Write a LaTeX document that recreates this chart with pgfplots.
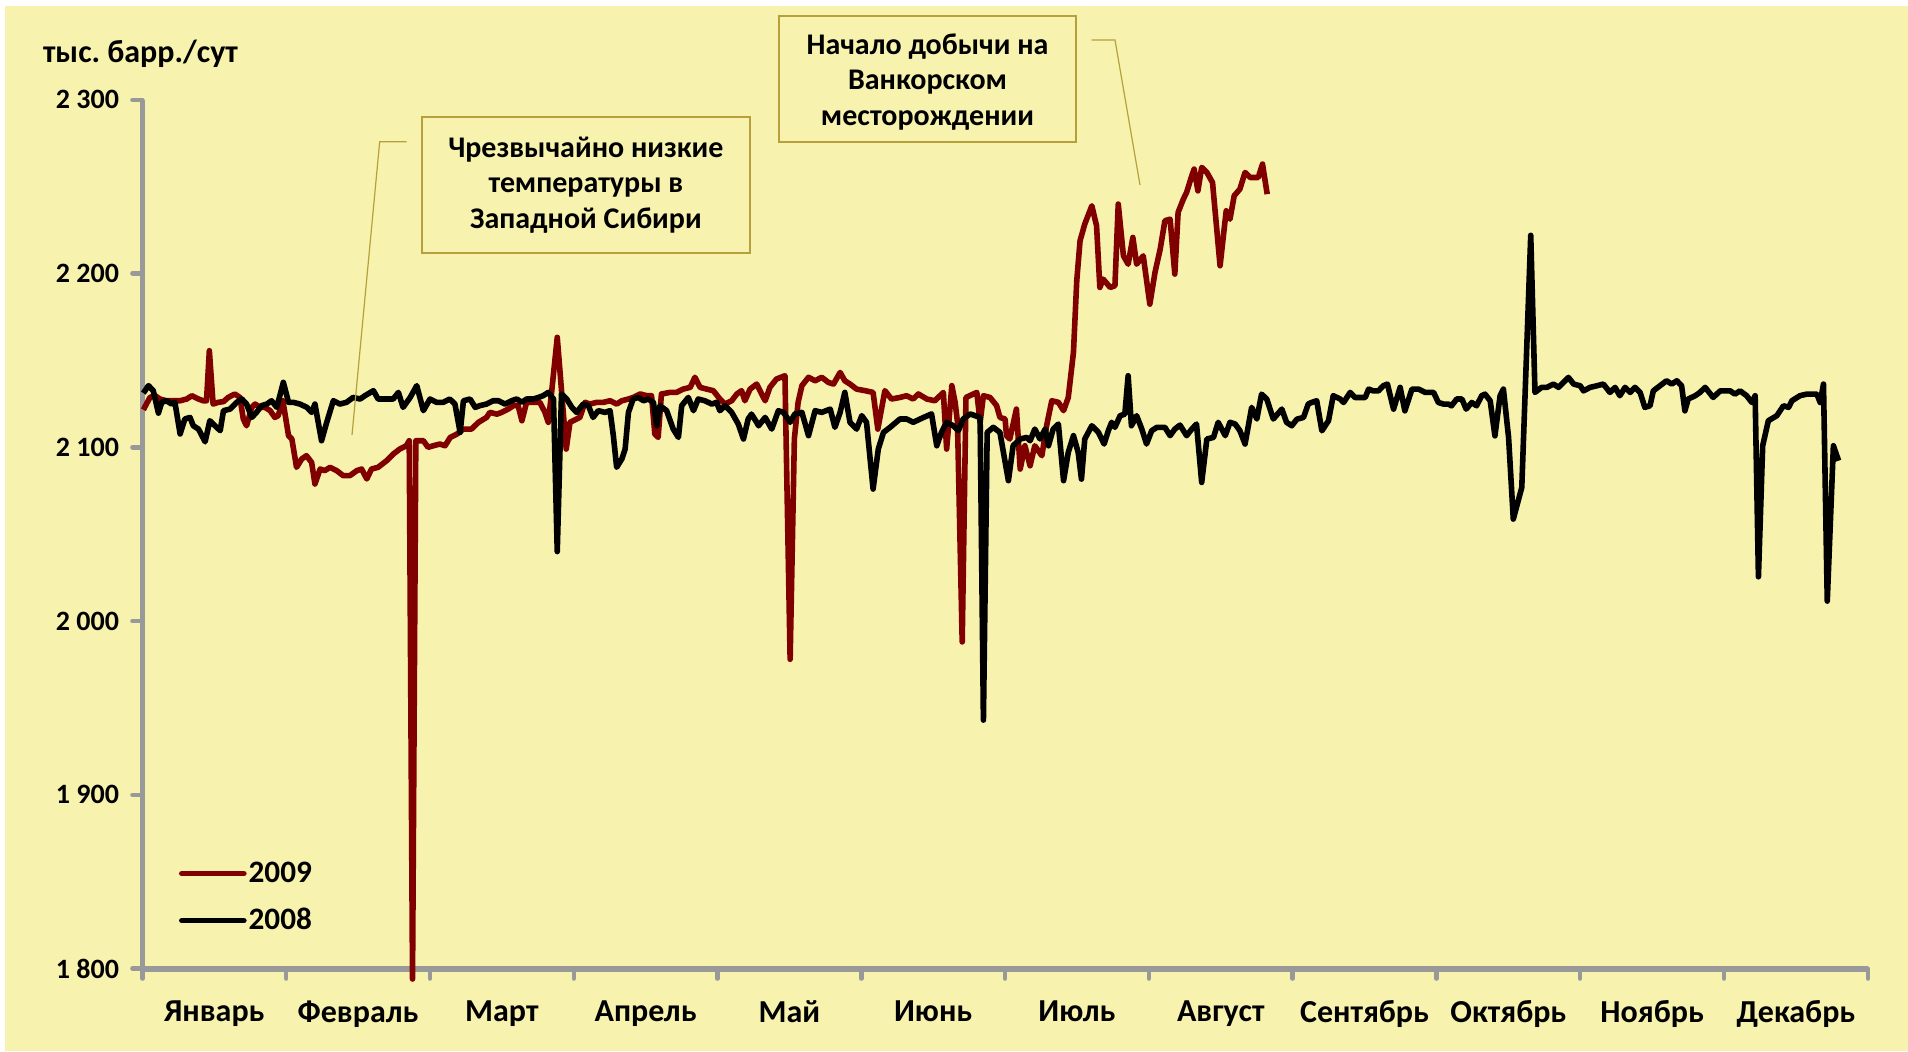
\documentclass[border=0pt]{standalone}
\usepackage{fontspec}
\setmainfont{Carlito}
\usepackage{pgfplots}
\pgfplotsset{compat=1.18}

\definecolor{bgyellow}{RGB}{247,242,173}
\definecolor{axisgray}{RGB}{153,153,153}
\definecolor{series09}{RGB}{128,0,0}
\definecolor{calloutline}{RGB}{181,160,60}

% daily output, thousand barrels per day; x = day of year
\pgfplotstableread{
d v
0.2 2121.6
1.6 2128.7
2.7 2129.7
3.7 2127.8
5.1 2126.8
6.6 2126.8
8.0 2126.8
9.4 2127.8
10.5 2129.7
11.9 2127.8
12.9 2126.8
13.6 2126.8
14.2 2155.6
15.0 2124.9
16.1 2125.9
17.2 2126.3
18.2 2128.7
19.6 2130.7
20.7 2128.7
21.4 2116.3
22.1 2112.4
23.2 2123.0
23.9 2124.9
25.0 2123.0
26.0 2123.0
27.1 2121.1
28.1 2117.2
28.8 2118.2
29.8 2126.8
31.0 2106.7
31.7 2104.8
32.7 2088.5
33.8 2093.3
34.8 2095.2
35.9 2091.3
36.6 2078.9
37.7 2087.5
38.7 2086.6
39.8 2088.5
41.2 2086.6
42.6 2083.7
44.0 2083.7
45.5 2086.6
46.5 2087.5
47.6 2081.8
48.6 2087.5
50.0 2088.5
51.8 2092.3
53.2 2096.1
54.6 2099.0
56.0 2100.9
56.6 2103.8
57.3 1794
58.0 2103.8
59.6 2103.8
60.6 2100.0
61.7 2100.9
63.1 2101.9
64.2 2100.9
65.3 2105.7
66.7 2107.6
68.1 2110.5
69.8 2110.5
71.3 2114.4
73.0 2117.2
73.7 2120.1
75.2 2119.1
76.2 2120.1
77.6 2122.0
78.7 2124.0
79.7 2124.0
80.5 2115.3
81.5 2125.9
82.9 2125.9
84.3 2125.9
85.4 2120.1
86.1 2114.4
86.8 2131.6
88.0 2163.3
89.9 2099.0
90.7 2114.4
92.1 2116.3
92.8 2117.2
93.9 2125.9
94.9 2124.9
96.4 2125.9
97.8 2125.9
99.2 2126.8
100.6 2124.9
101.7 2126.8
103.1 2127.8
104.1 2128.7
105.6 2130.7
107.0 2129.7
108.0 2129.7
108.7 2107.6
109.4 2105.7
110.1 2130.7
111.9 2131.6
113.3 2131.6
114.7 2133.5
116.2 2134.5
117.2 2140.3
118.3 2134.5
119.7 2133.5
121.1 2132.6
122.5 2127.8
123.6 2124.9
125.0 2126.8
126.1 2130.7
127.1 2132.6
127.8 2126.8
128.9 2133.5
130.3 2136.4
132.1 2126.8
133.1 2134.5
134.5 2139.3
136.3 2141.2
137.4 1978
138.3 2105
139.1 2126
139.9 2135.5
141.3 2140.3
142.7 2138.3
144.1 2140.3
145.5 2137.4
146.6 2136.4
148.0 2143.1
149.0 2138.3
150.1 2136.4
151.5 2133.5
153.3 2132.6
155.0 2131.6
156.0 2110.5
157.5 2132.6
158.9 2127.8
160.7 2128.7
162.1 2129.7
163.5 2127.8
164.6 2130.7
166.4 2127.8
168.1 2126.8
169.9 2131.6
170.6 2099.0
171.7 2135.5
172.4 2125.9
172.9 2114.4
173.9 1988
174.7 2128.7
177.0 2131.6
177.7 2114.4
178.4 2129.7
179.8 2128.7
181.2 2124.0
181.9 2117.2
183.0 2116.3
183.3 2106.7
184.0 2104.8
185.4 2122.0
186.2 2087.5
187.2 2100.9
188.3 2089.4
189.3 2100.9
190.8 2095.2
191.8 2112.4
192.9 2126.8
194.3 2125.9
195.4 2121.1
196.4 2128.7
197.5 2154.6
198.2 2195.9
198.9 2218.9
199.9 2228.5
201.4 2239.0
202.4 2227.5
203.1 2192.0
203.8 2196.8
205.3 2192.0
206.3 2193.0
207.0 2240.0
208.1 2210.2
209.1 2205.4
210.1 2220.8
210.9 2205.4
212.3 2210.2
213.7 2182.4
214.8 2200.7
215.9 2214.1
216.9 2230.4
218.0 2231.3
219.0 2199.7
219.7 2235.2
220.8 2242.8
221.5 2246.7
222.6 2256.3
223.1 2260.1
223.9 2247.6
224.7 2261.1
225.8 2258.2
227.0 2252.4
228.6 2204.5
229.9 2236.1
230.7 2231.3
231.6 2244.8
232.8 2248.6
233.9 2258.2
235.0 2255.3
236.7 2255.3
237.6 2263.0
238.6 2245.7
}\yearnine

\pgfplotstableread{
d v
0.2 2131.2
1.3 2135.5
2.3 2132.6
3.4 2119.7
4.1 2125.9
5.1 2126.8
6.2 2124.9
6.9 2125.9
8.0 2107.7
9.0 2116.3
10.1 2117.2
10.8 2112.4
11.9 2110.5
13.3 2103.2
14.3 2115.3
15.4 2112.4
16.5 2109.6
17.2 2121.1
18.6 2122.0
20.0 2125.9
21.1 2127.8
22.1 2124.9
23.2 2117.2
24.2 2120.1
25.3 2124.0
26.4 2124.9
27.4 2126.8
28.5 2123.0
29.9 2137.4
31.0 2125.9
32.0 2125.9
33.4 2124.9
34.9 2123.0
35.9 2120.1
36.6 2124.9
38.0 2103.8
39.1 2114.4
40.5 2126.8
41.9 2124.9
43.3 2125.9
44.7 2128.7
46.2 2127.8
47.2 2129.7
49.0 2132.6
50.0 2127.8
51.8 2127.8
53.2 2127.8
54.3 2131.6
55.3 2123.0
56.8 2128.7
58.2 2135.5
59.6 2121.1
61.0 2127.8
62.4 2125.9
63.8 2125.9
65.2 2127.8
66.3 2124.9
67.4 2108.6
68.1 2126.8
69.5 2127.8
70.6 2123.0
71.6 2124.0
73.0 2124.9
74.4 2126.8
75.5 2126.8
76.9 2124.9
78.3 2126.8
79.4 2127.8
80.5 2125.9
81.5 2127.8
82.9 2127.8
84.0 2128.7
85.0 2129.7
86.1 2131.6
87.2 2127.8
88.0 2040
88.9 2130.7
90.0 2127.8
91.1 2123.0
92.1 2120.1
93.5 2124.9
94.6 2124.0
95.6 2117.2
96.7 2121.1
98.1 2120.1
99.2 2121.1
99.9 2106.7
100.6 2088.5
101.7 2093.3
102.4 2099.0
103.1 2120.1
104.1 2127.8
105.2 2128.7
106.3 2126.8
107.3 2127.8
108.4 2125.9
109.1 2112.4
109.8 2124.0
111.2 2121.1
112.6 2110.5
113.7 2105.7
114.4 2124.0
115.8 2128.7
116.9 2121.1
117.9 2127.8
119.3 2126.8
120.8 2124.9
121.8 2125.9
122.5 2121.1
123.6 2124.0
125.0 2120.1
126.4 2113.4
127.5 2104.8
128.5 2116.3
129.2 2119.1
130.3 2114.4
130.7 2112.4
132.1 2117.2
133.5 2110.5
134.9 2121.1
136.0 2120.1
137.4 2114.4
138.4 2119.2
139.9 2120.1
141.3 2106.7
142.7 2121.1
144.1 2120.1
145.9 2122.0
146.9 2111.5
148.0 2120.1
149.0 2131.6
150.1 2114.4
151.5 2110.5
152.6 2118.2
153.6 2114.4
155.0 2076.0
156.1 2099.0
157.2 2108.6
158.6 2111.5
160.7 2116.3
162.1 2116.3
163.5 2114.4
165.7 2117.2
167.4 2119.2
168.5 2100.9
169.5 2108.6
170.6 2114.4
172.0 2112.4
173.1 2109.6
174.1 2116.3
175.6 2119.2
177.7 2117.2
178.4 1943
179.2 2108.6
180.5 2111.5
181.9 2108.6
183.7 2080.8
184.7 2100.9
186.2 2104.8
187.6 2105.7
188.3 2103.8
189.3 2110.5
190.4 2104.8
191.5 2110.5
192.2 2100.9
193.2 2110.5
194.3 2113.4
195.4 2080.8
196.4 2097.1
197.5 2106.7
198.5 2097.1
199.2 2081.7
199.9 2104.8
201.4 2112.4
202.8 2108.6
204.0 2101.9
204.9 2109.6
205.6 2114.4
206.3 2111.5
207.4 2118.2
208.4 2119.1
209.1 2141.2
209.8 2112.4
210.9 2118.2
212.0 2110.5
213.0 2101.9
214.1 2109.6
215.2 2111.5
216.9 2111.5
218.0 2106.7
219.0 2110.5
220.1 2112.8
221.5 2106.7
222.6 2110.5
223.6 2113.4
224.7 2079.8
225.8 2104.8
227.2 2105.7
228.2 2114.4
229.7 2106.7
230.7 2114.4
231.8 2113.4
232.8 2109.6
233.9 2101.9
235.3 2123.0
236.4 2116.3
237.4 2130.6
238.5 2127.8
239.9 2116.3
241.7 2122.0
242.7 2114.4
243.8 2112.4
244.9 2116.2
246.3 2117.2
247.3 2124.9
248.0 2125.8
249.1 2126.8
250.2 2109.5
251.6 2115.3
252.6 2129.7
254.1 2127.8
254.8 2125.8
256.2 2131.6
257.2 2128.7
259.4 2128.7
260.1 2133.5
261.1 2132.5
262.2 2132.5
263.2 2135.4
264.1 2136.4
265.4 2122.0
266.8 2134.5
267.8 2121.0
269.3 2133.5
270.7 2133.5
272.1 2131.6
273.9 2131.6
274.9 2125.8
276.0 2124.9
277.0 2124.9
277.7 2123.9
278.8 2127.8
279.9 2127.8
280.8 2122.0
282.0 2125.8
283.0 2123.9
284.1 2129.7
284.8 2130.6
285.9 2126.8
286.9 2106.6
288.0 2129.7
288.7 2133.5
289.8 2105.7
290.8 2058.7
292.6 2076.9
294.5 2222
295.4 2131.6
296.8 2134.5
297.9 2134.5
299.3 2136.4
300.4 2134.5
301.4 2137.3
302.5 2140.2
303.6 2136.4
305.0 2135.4
305.7 2132.5
307.1 2134.5
308.5 2135.4
309.9 2136.4
311.3 2131.6
312.4 2134.5
313.4 2129.7
314.5 2134.5
315.6 2131.6
316.6 2134.5
317.7 2131.6
318.7 2123.0
319.8 2123.9
320.5 2132.5
321.9 2135.4
323.3 2138.3
324.4 2136.4
325.5 2138.3
326.5 2135.4
327.2 2121.0
327.9 2127.8
329.4 2129.7
330.4 2131.6
331.5 2134.5
333.2 2128.7
334.7 2132.5
336.8 2132.5
337.8 2130.6
338.9 2132.5
340.3 2129.7
341.4 2125.8
342.1 2129.7
342.8 2025.5
343.7 2100.9
344.9 2115.3
346.7 2118.2
348.1 2123.9
349.2 2123.0
349.9 2126.8
351.6 2129.7
353.0 2130.6
355.2 2130.6
355.9 2125.8
356.6 2136.4
357.4 2011.5
358.7 2100.9
359.8 2092.3
}\yeareight

\begin{document}
\frenchspacing
\begin{tikzpicture}
\useasboundingbox (0,0) rectangle (954pt,525.5pt);
\fill[white] (0,0) rectangle (954pt,525.5pt);
\fill[bgyellow] (2.5pt,0) rectangle (954pt,522.5pt);

\begin{axis}[
  at={(71.2pt,41.2pt)}, anchor=south west,
  scale only axis, width=862.7pt, height=434.4pt,
  xmin=0, xmax=366, ymin=1800, ymax=2300,
  clip=false,
  axis x line*=bottom, axis y line*=left,
  x axis line style={draw=axisgray, line width=3pt, -},
  y axis line style={draw=axisgray, line width=2.4pt, -},
  tick align=outside,
  major tick length=5pt,
  tick style={draw=axisgray, line width=2.2pt, line cap=round},
  xtick={0,30.5,...,366},
  xticklabels={},
  extra x ticks={15.25,45.75,76.25,106.75,137.25,167.75,198.25,228.75,259.25,289.75,320.25,350.75},
  extra x tick labels={Январь,Февраль,Март,Апрель,Май,Июнь,Июль,Август,Сентябрь,Октябрь,Ноябрь,Декабрь},
  extra x tick style={major tick length=0pt,
    xticklabel style={font=\bfseries\fontsize{16}{19}\selectfont, yshift=-12.5pt}},
  ytick={1800,1900,2000,2100,2200,2300},
  yticklabels={1 800,1 900,2 000,2 100,2 200,2 300},
  yticklabel style={font=\bfseries\fontsize{14}{17}\selectfont, xshift=-3.2pt},
  legend style={draw=none, fill=none, inner sep=0pt,
    at={(0.021,0.0819)}, anchor=west,
    row sep=11.5pt, column sep=1pt,
    font=\bfseries\fontsize{15.6}{18}\selectfont,
    nodes={inner sep=0pt}},
  legend cell align=left,
  legend image code/.code={\draw[#1, line width=2.8pt, line cap=round] (0pt,0pt) -- (31pt,0pt);},
]
\addplot[series09, line width=2.8pt, line join=round] table[x=d, y=v] {\yearnine};
\addlegendentry{2009}
\addplot[black, line width=2.8pt, line join=round] table[x=d, y=v] {\yeareight};
\addlegendentry{2008}
\end{axis}

\begin{scope}[x=0.5pt, y=-0.5pt, yshift=525.5pt]
  % unit label of the value axis
  \node[anchor=base west, inner sep=0pt, font=\bfseries\fontsize{16}{19}\selectfont]
    at (42.6,62.4) {тыс. барр./сут};
  % callout: cold spell
  \draw[calloutline, line width=0.6pt] (406.7,141.7) -- (379.7,141.7) -- (352,435);
  \draw[calloutline, line width=1pt, fill=bgyellow] (422.2,116.8) rectangle (749.6,253.1);
  \node[align=center, inner sep=0pt, font=\bfseries\fontsize{15}{17.65}\selectfont]
    at (585.9,185) {Чрезвычайно низкие\\температуры в\\Западной Сибири};
  % callout: Vankor field start-up
  \draw[calloutline, line width=0.6pt] (1091.7,40) -- (1115,40) -- (1140,185);
  \draw[calloutline, line width=1pt, fill=bgyellow] (779.3,15.7) rectangle (1075.7,142.3);
  \node[align=center, inner sep=0pt, font=\bfseries\fontsize{15}{17.8}\selectfont]
    at (927.5,82) {Начало добычи на\\Ванкорском\\месторождении};
\end{scope}
\end{tikzpicture}
\end{document}
